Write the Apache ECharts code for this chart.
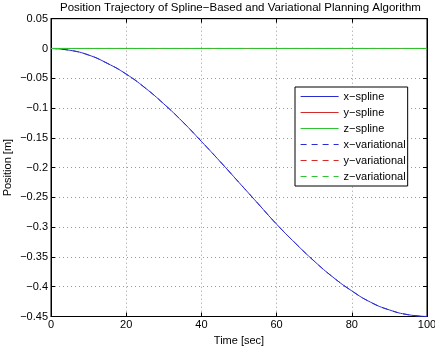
<!DOCTYPE html>
<html>
<head>
<meta charset="utf-8">
<script src="https://cdn.jsdelivr.net/npm/echarts@6/dist/echarts.min.js"></script>
<style>
  html, body { margin: 0; padding: 0; background: #fff; }
  #chart { width: 435px; height: 353px; }
</style>
</head>
<body>
<div id="chart"></div>
<script>
// time samples [sec]
var timeSec = [0, 5, 10, 15, 20, 25, 30, 35, 40, 45, 50, 55, 60, 65, 70, 75, 80, 85, 90, 95, 100];
// position [m]
var xSpline = [0, -0.003, -0.011, -0.025, -0.043, -0.066, -0.093, -0.123, -0.156, -0.190, -0.225,
               -0.260, -0.295, -0.327, -0.357, -0.384, -0.407, -0.426, -0.439, -0.447, -0.45];
var ySpline = [0, 0, 0, 0, 0, 0, 0, 0, 0, 0, 0, 0, 0, 0, 0, 0, 0, 0, 0, 0, 0];
var zSpline = [0, 0, 0, 0, 0, 0, 0, 0, 0, 0, 0, 0, 0, 0, 0, 0, 0, 0, 0, 0, 0];
var xVariational = xSpline.slice();
var yVariational = ySpline.slice();
var zVariational = zSpline.slice();
var seriesNames = ['x\u2212spline', 'y\u2212spline', 'z\u2212spline', 'x\u2212variational', 'y\u2212variational', 'z\u2212variational'];

var FONT = 'Liberation Sans';
var BLUE = '#2b2bd6', RED = '#d42a2a', GREEN = '#2fc42f';
var DASH = [6, 5];

function pairs(ys) {
    return timeSec.map(function (t, i) { return [t, ys[i]]; });
}
function mkLine(name, ys, color, dashed, z) {
    return {
        name: name,
        type: 'line',
        data: pairs(ys),
        smooth: true,
        showSymbol: false,
        symbol: 'circle',
        animation: false,
        z: z,
        lineStyle: { color: color, width: 1, type: dashed ? DASH : 'solid' },
        // opacity 0 hides the legend dot, the line keeps its own style
        itemStyle: { color: color, opacity: 0 }
    };
}
function fmtNum(v) {
    return String(+(+v).toFixed(2)).replace('-', '\u2212');
}
var tickStyle = { show: true, inside: true, length: 4, lineStyle: { color: '#000' } };
var boxLine = { show: true, onZero: false, lineStyle: { color: '#000' } };
var gridDots = { show: true, lineStyle: { color: '#9a9a9a', type: [1, 3] } };
var labelStyle = { fontFamily: FONT, fontSize: 11, color: '#000', margin: 3, formatter: fmtNum };

var chart = echarts.init(document.getElementById('chart'));
var option = {
    backgroundColor: '#fff',
    animation: false,
    title: {
        text: 'Position Trajectory of Spline\u2212Based and Variational Planning Algorithm',
        left: 60,
        top: 2,
        padding: 0,
        textStyle: { fontFamily: FONT, fontSize: 11.5, fontWeight: 'normal', color: '#000' }
    },
    grid: {
        left: 51, right: 8, top: 18.7, bottom: 36.5,
        containLabel: false, outerBoundsMode: 'none',
        show: true, borderColor: '#000', borderWidth: 1
    },
    legend: {
        orient: 'vertical',
        left: 295,
        top: 87,
        itemWidth: 38,
        itemHeight: 11.5,
        itemGap: 5,
        padding: [4, 2, 4, 5],
        backgroundColor: '#fff',
        borderColor: '#000',
        borderWidth: 1,
        lineStyle: { width: 1.2 },
        textStyle: { fontFamily: FONT, fontSize: 11, color: '#000' },
        data: seriesNames
    },
    xAxis: [{
        type: 'value', min: 0, max: 100, interval: 20,
        name: 'Time [sec]', nameLocation: 'middle', nameGap: 19, nameMoveOverlap: false,
        nameTextStyle: { fontFamily: FONT, fontSize: 11, color: '#000' },
        axisLine: boxLine, axisTick: tickStyle, axisLabel: labelStyle,
        splitLine: gridDots
    }, {
        type: 'value', min: 0, max: 100, interval: 20, position: 'top',
        axisLine: boxLine, axisTick: tickStyle,
        axisLabel: { show: false }, splitLine: { show: false }
    }],
    yAxis: [{
        type: 'value', min: -0.45, max: 0.05, interval: 0.05,
        name: 'Position [m]', nameLocation: 'middle', nameGap: 38, nameMoveOverlap: false,
        nameTextStyle: { fontFamily: FONT, fontSize: 11, color: '#000' },
        axisLine: boxLine, axisTick: tickStyle, axisLabel: labelStyle,
        splitLine: gridDots
    }, {
        type: 'value', min: -0.45, max: 0.05, interval: 0.05, position: 'right',
        axisLine: boxLine, axisTick: tickStyle,
        axisLabel: { show: false }, splitLine: { show: false }
    }],
    series: [
        mkLine(seriesNames[0], xSpline, BLUE, false, 3),
        mkLine(seriesNames[1], ySpline, RED, false, 2),
        mkLine(seriesNames[2], zSpline, GREEN, false, 4),
        mkLine(seriesNames[3], xVariational, BLUE, true, 3),
        mkLine(seriesNames[4], yVariational, RED, true, 2),
        mkLine(seriesNames[5], zVariational, GREEN, true, 4)
    ]
};
chart.setOption(option);
</script>
</body>
</html>
